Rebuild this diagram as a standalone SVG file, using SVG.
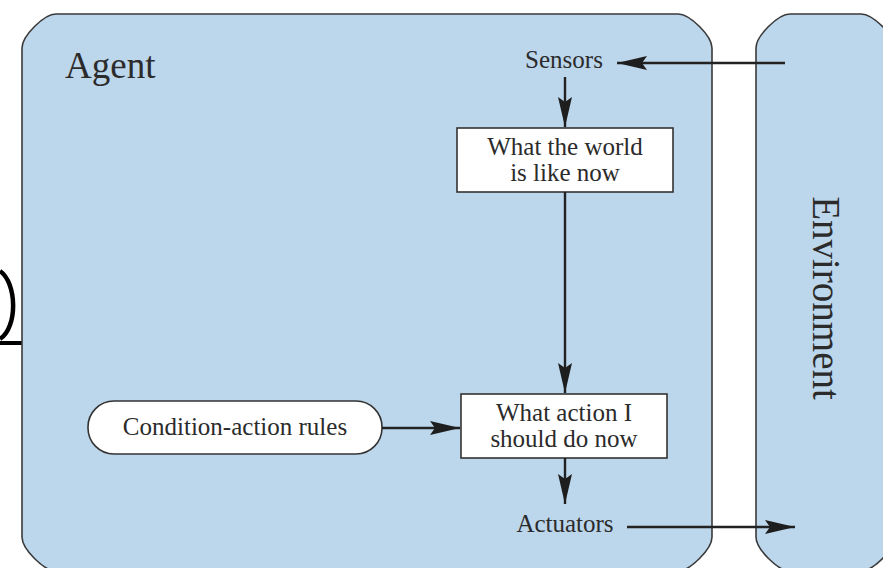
<svg xmlns="http://www.w3.org/2000/svg" width="883" height="568" viewBox="0 0 883 568">
  <style>
    .region { fill: #bcd6eb; stroke: #3a3a3a; stroke-width: 1.6; }
    .box { fill: #ffffff; stroke: #333333; stroke-width: 1.6; }
    .lbl { font-family: "Liberation Serif", "Times New Roman", serif; fill: #2b2b2b; font-size: 25px; text-anchor: middle; }
    .big { font-family: "Liberation Serif", "Times New Roman", serif; fill: #2b2b2b; }
    .wire { stroke: #222222; stroke-width: 2.4; fill: none; }
  </style>
  <defs>
    <marker id="head" markerUnits="userSpaceOnUse" markerWidth="32" markerHeight="16" viewBox="0 0 32 16" refX="30" refY="8" orient="auto">
      <path d="M0,1 L30,8 L0,15 L5,8 Z" fill="#1e1e1e"/>
    </marker>
  </defs>

  <rect width="883" height="568" fill="#ffffff"/>

  <!-- partial glyph at the left page edge -->
  <g id="edge-mark">
    <path d="M0,271 C17,283 18,327 0,339" fill="none" stroke="#000" stroke-width="4.5"/>
    <line x1="0" y1="343" x2="26" y2="343" stroke="#000" stroke-width="4"/>
  </g>

  <!-- agent region -->
  <g id="agent">
    <path class="region" d="M56,14 L678,14 C690,14 712,36 712,48 L712,537 C712,549 690,571 678,571 L56,571 C44,571 22,549 22,537 L22,48 C22,36 44,14 56,14 Z"/>
    <text class="big" x="65" y="78" font-size="37">Agent</text>
  </g>

  <!-- environment region -->
  <g id="environment">
    <path class="region" d="M790,14 L861,14 C873,14 895,36 895,48 L895,537 C895,549 873,571 861,571 L790,571 C778,571 756,549 756,537 L756,48 C756,36 778,14 790,14 Z"/>
    <text class="big" x="813" y="298" font-size="39" text-anchor="middle" transform="rotate(90 813 298)">Environment</text>
  </g>

  <g id="sensors">
    <text class="lbl" x="564" y="68">Sensors</text>
  </g>

  <g id="world-state">
    <rect class="box" x="457" y="128" width="216" height="64"/>
    <text class="lbl" x="565" y="155">What the world</text>
    <text class="lbl" x="565" y="181">is like now</text>
  </g>

  <g id="rules">
    <rect class="box" x="88" y="401" width="294" height="53" rx="26" ry="26"/>
    <text class="lbl" x="235" y="435">Condition-action rules</text>
  </g>

  <g id="action">
    <rect class="box" x="461" y="394" width="206" height="64"/>
    <text class="lbl" x="564" y="421">What action I</text>
    <text class="lbl" x="564" y="447">should do now</text>
  </g>

  <g id="actuators">
    <text class="lbl" x="565" y="532">Actuators</text>
  </g>

  <!-- connectors -->
  <g id="connectors">
    <line class="wire" x1="785" y1="63" x2="617" y2="63" marker-end="url(#head)"/>
    <line class="wire" x1="565" y1="77" x2="565" y2="127" marker-end="url(#head)"/>
    <line class="wire" x1="565" y1="192" x2="565" y2="393" marker-end="url(#head)"/>
    <line class="wire" x1="382" y1="428" x2="460" y2="428" marker-end="url(#head)"/>
    <line class="wire" x1="565" y1="458" x2="565" y2="504" marker-end="url(#head)"/>
    <line class="wire" x1="627" y1="527" x2="795" y2="527" marker-end="url(#head)"/>
  </g>
</svg>
